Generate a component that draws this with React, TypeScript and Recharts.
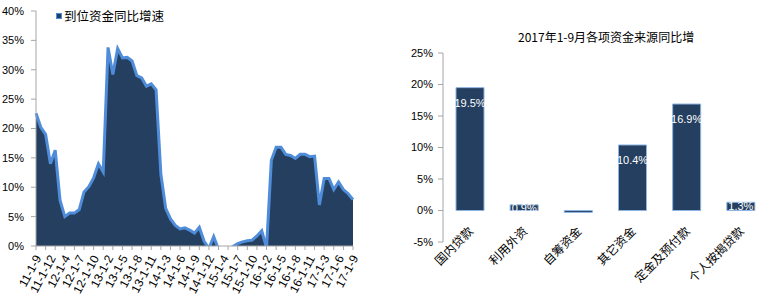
import { AreaChart, Area, BarChart, Bar, XAxis, YAxis, LabelList } from 'recharts'

// 月度累计口径（1月与2月合并公布）
const periods = [
  '11-1-9', '11-1-10', '11-1-11', '11-1-12',
  '12-1-2', '12-1-3', '12-1-4', '12-1-5', '12-1-6', '12-1-7', '12-1-8', '12-1-9', '12-1-10', '12-1-11', '12-1-12',
  '13-1-2', '13-1-3', '13-1-4', '13-1-5', '13-1-6', '13-1-7', '13-1-8', '13-1-9', '13-1-10', '13-1-11', '13-1-12',
  '14-1-2', '14-1-3', '14-1-4', '14-1-5', '14-1-6', '14-1-7', '14-1-8', '14-1-9', '14-1-10', '14-1-11', '14-1-12',
  '15-1-2', '15-1-3', '15-1-4', '15-1-5', '15-1-6', '15-1-7', '15-1-8', '15-1-9', '15-1-10', '15-1-11', '15-1-12',
  '16-1-2', '16-1-3', '16-1-4', '16-1-5', '16-1-6', '16-1-7', '16-1-8', '16-1-9', '16-1-10', '16-1-11', '16-1-12',
  '17-1-2', '17-1-3', '17-1-4', '17-1-5', '17-1-6', '17-1-7', '17-1-8', '17-1-9',
]

// 到位资金同比增速 (%)
const fundGrowth = [
  22.6, 20.2, 19.0, 14.0,
  16.3, 7.8, 5.0, 5.6, 5.6, 6.2, 9.2, 10.1, 11.6, 14.0, 12.6,
  33.8, 29.2, 33.6, 32.0, 32.1, 31.5, 29.0, 28.6, 27.2, 27.6, 26.6,
  12.2, 6.4, 4.6, 3.5, 2.9, 3.1, 2.7, 2.2, 3.2, 0.8, -0.4,
  1.6, -0.6, -0.8, -0.6, -0.1, 0.4, 0.7, 0.9, 1.0, 1.7, 2.6,
  -0.3, 14.6, 16.8, 16.8, 15.6, 15.4, 14.9, 15.6, 15.6, 15.2, 15.3,
  7.0, 11.5, 11.5, 9.6, 10.9, 9.6, 8.9, 7.9,
]

const sourceNames = ['国内贷款', '利用外资', '自筹资金', '其它资金', '定金及预付款', '个人按揭贷款']
const sourceGrowth = [19.5, 0.9, -0.3, 10.4, 16.9, 1.3]

const leftTicks = [0, 5, 10, 15, 20, 25, 30, 35, 40]
const rightTicks = [-5, 0, 5, 10, 15, 20, 25]

const NAVY = '#243F60'
const LINE = '#4F8DDA'
const BAR_EDGE = '#8DB3E2'
const AXIS = '#A6A6A6'
const NUM_FONT = '"Liberation Sans", Arial, sans-serif'
const CJK_FONT = '"Noto Sans CJK SC", sans-serif'

const areaData = periods.map((period, i) => ({ period, value: fundGrowth[i] }))
const barData = sourceNames.map((name, i) => ({ name, value: sourceGrowth[i] }))

const pct = (v: number) => `${v}%`

function PeriodTick(props: any) {
  const { x, y, payload } = props
  const i = payload?.index ?? props.index
  const ax = x + 2
  const ay = y + 10
  return (
    <g>
      {i % 2 === 0 && <line x1={x} y1={y} x2={x} y2={y + 4} stroke={AXIS} />}
      {i % 3 === 0 && (
        <text
          x={ax}
          y={ay}
          dy="0.35em"
          textAnchor="end"
          transform={`rotate(-62 ${ax} ${ay})`}
          fontSize={12}
          fontFamily={NUM_FONT}
          fill="#000"
        >
          {payload.value}
        </text>
      )}
    </g>
  )
}

function SourceTick(props: any) {
  const { x, y, payload } = props
  const ax = x + 1
  const ay = y - 13
  return (
    <text
      x={ax}
      y={ay}
      dy="0.35em"
      textAnchor="end"
      transform={`rotate(-45 ${ax} ${ay})`}
      fontSize={12}
      fontFamily={CJK_FONT}
      fill="#000"
    >
      {payload.value}
    </text>
  )
}

function BarValueLabel(props: any) {
  const { x, y, width, height, value } = props
  if (value < 0) return null
  const ly = height > 30 ? y + 15 : y + height / 2
  return (
    <text
      x={x + width / 2}
      y={ly}
      dy="0.35em"
      textAnchor="middle"
      fill="#fff"
      fontSize={11}
      fontFamily={NUM_FONT}
    >
      {value.toFixed(1)}%
    </text>
  )
}

export default function App() {
  return (
    <div style={{ position: 'fixed', left: 0, top: 0, width: 771, height: 301, background: '#fff', overflow: 'hidden' }}>
      {/* 左：到位资金同比增速 */}
      <div style={{ position: 'absolute', left: 0, top: 0 }}>
        <AreaChart width={380} height={301} data={areaData} margin={{ top: 11, right: 27, left: 0, bottom: 0 }}>
          <XAxis
            dataKey="period"
            interval={0}
            tick={(p: any) => <PeriodTick {...p} />}
            tickLine={false}
            tickSize={0}
            tickMargin={0}
            height={55}
            stroke={AXIS}
          />
          <YAxis
            domain={[0, 40]}
            ticks={leftTicks}
            tickFormatter={pct}
            width={36}
            tickSize={5}
            tickMargin={7}
            stroke={AXIS}
            allowDataOverflow
            tick={{ fill: '#000', fontSize: 11, fontFamily: NUM_FONT }}
          />
          <Area
            type="linear"
            dataKey="value"
            stroke={LINE}
            strokeWidth={3}
            fill={NAVY}
            fillOpacity={1}
            dot={false}
            activeDot={false}
            isAnimationActive={false}
          />
        </AreaChart>
      </div>
      <div style={{ position: 'absolute', left: 56, top: 13, width: 4, height: 4, background: NAVY, border: `1px solid ${LINE}` }} />
      <div style={{ position: 'absolute', left: 64, top: 8, fontSize: 12.5, lineHeight: '16px', fontFamily: CJK_FONT, color: '#000', whiteSpace: 'nowrap' }}>
        到位资金同比增速
      </div>

      {/* 右：2017年1-9月各项资金来源同比增 */}
      <div style={{ position: 'absolute', left: 380, top: 0 }}>
        <BarChart width={391} height={301} data={barData} margin={{ top: 53, right: 3, left: 0, bottom: 0 }}>
          <XAxis
            dataKey="name"
            interval={0}
            axisLine={false}
            tickLine={false}
            tickSize={0}
            tickMargin={0}
            height={59}
            tick={(p: any) => <SourceTick {...p} />}
          />
          <YAxis
            domain={[-5, 25]}
            ticks={rightTicks}
            tickFormatter={pct}
            width={63}
            tickSize={5}
            tickMargin={5}
            stroke={AXIS}
            tick={{ fill: '#000', fontSize: 11, fontFamily: NUM_FONT }}
          />
          <Bar dataKey="value" barSize={28} fill={NAVY} stroke={BAR_EDGE} strokeWidth={1} isAnimationActive={false}>
            <LabelList dataKey="value" content={(p: any) => <BarValueLabel {...p} />} />
          </Bar>
        </BarChart>
      </div>
      <div style={{ position: 'absolute', left: 518, top: 30, fontSize: 12, lineHeight: '14px', fontFamily: CJK_FONT, color: '#000', whiteSpace: 'nowrap' }}>
        2017年1-9月各项资金来源同比增
      </div>
    </div>
  )
}
